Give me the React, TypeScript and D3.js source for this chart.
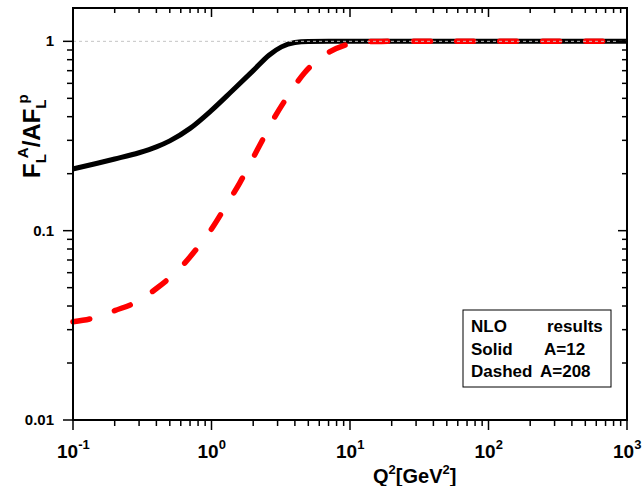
import React from "react";
import * as d3 from "d3";

// ---- data ----
const q2A12 = [0.1, 0.15, 0.2, 0.3, 0.4, 0.5, 0.7, 1, 1.4, 2, 2.6, 3.2, 4, 5, 7, 10, 100, 1000];
const ratioA12 = [0.212, 0.227, 0.239, 0.258, 0.277, 0.298, 0.347, 0.432, 0.545, 0.7, 0.845, 0.935, 0.985, 0.998, 1.0, 1.0, 1.0, 1.0];

const q2A208 = [0.1, 0.15, 0.2, 0.3, 0.4, 0.6, 0.8, 1, 1.3, 1.6, 2, 2.3, 2.9, 3.5, 4.7, 6.3, 9.4, 13, 20, 100, 1000];
const ratioA208 = [0.033, 0.035, 0.0378, 0.0427, 0.0495, 0.064, 0.082, 0.102, 0.139, 0.179, 0.243, 0.295, 0.405, 0.505, 0.683, 0.83, 0.96, 0.997, 1.0, 1.0, 1.0];

const xTickExponents = [-1, 0, 1, 2, 3];
const yTickValues = [0.01, 0.1, 1];
const yTickLabels = ["0.01", "0.1", "1"];
const legendRows = [
  ["NLO", "results"],
  ["Solid", "A=12"],
  ["Dashed", "A=208"],
];

const W = 642;
const H = 486;
const L = 73, R = 627, T = 8, B = 420;
const FONT = "'Liberation Sans', Arial, Helvetica, sans-serif";

export default function App() {
  const x = d3.scaleLog().domain([0.1, 1000]).range([L, R]);
  const y = d3.scaleLog().domain([0.01, 1.5]).range([B, T]);

  const line = d3
    .line<[number, number]>()
    .x((d) => x(d[0]))
    .y((d) => y(d[1]))
    .curve(d3.curveMonotoneX);

  const solidPath = line(q2A12.map((q, i) => [q, ratioA12[i]] as [number, number])) || "";
  const dashedPath = line(q2A208.map((q, i) => [q, ratioA208[i]] as [number, number])) || "";

  const xTicks = x.ticks();
  const yTicks = y.ticks().filter((v) => v <= 1.5 && v >= 0.01);
  const isMajor = (v: number) => Math.abs(Math.log10(v) - Math.round(Math.log10(v))) < 1e-6;

  return (
    <svg
      width={W}
      height={H}
      style={{ position: "absolute", left: 0, top: 0, background: "#fff" }}
      fontFamily={FONT}
    >
      <rect x={0} y={0} width={W} height={H} fill="#fff" />

      {/* curves */}
      <path d={solidPath} fill="none" stroke="#000" strokeWidth={5} />
      <path
        d={dashedPath}
        fill="none"
        stroke="#ff0000"
        strokeWidth={5.5}
        strokeLinecap="round"
        strokeDasharray="17 26"
      />

      {/* gridline at 1 */}
      <line x1={L} x2={R} y1={y(1)} y2={y(1)} stroke="#c4c4c4" strokeWidth={1} strokeDasharray="3 3" />

      {/* axes frame */}
      <g stroke="#000" strokeWidth={2} fill="none">
        <line x1={L} x2={L} y1={T} y2={B + 1} />
        <line x1={R} x2={R} y1={T} y2={B + 1} />
        <line x1={L - 1} x2={R + 1} y1={T} y2={T} />
        <line x1={L - 1} x2={R + 1} y1={B} y2={B} />
      </g>

      {/* x ticks */}
      <g stroke="#000" strokeWidth={1.5}>
        {xTicks.map((v, i) => {
          const len = isMajor(v) ? 10 : 6;
          const xi = x(v);
          return (
            <g key={"xt" + i}>
              <line x1={xi} x2={xi} y1={B} y2={B + len} />
              <line x1={xi} x2={xi} y1={T} y2={T + len - 1} />
            </g>
          );
        })}
      </g>

      {/* y ticks */}
      <g stroke="#000" strokeWidth={1.5}>
        {yTicks.map((v, i) => {
          const len = isMajor(v) ? 10 : 6;
          const yi = y(v);
          return (
            <g key={"yt" + i}>
              <line x1={L - len} x2={L} y1={yi} y2={yi} />
              <line x1={R - len + 1} x2={R} y1={yi} y2={yi} />
            </g>
          );
        })}
      </g>

      {/* x tick labels */}
      <g fontWeight="bold" fill="#000">
        {xTickExponents.map((e) => {
          const v = Math.pow(10, e);
          const baseW = 21;
          const supW = e < 0 ? 11 : 7;
          const total = baseW + supW;
          const x0 = x(v) - total / 2;
          return (
            <text key={"xl" + e} x={x0} y={458} fontSize={19}>
              10
              <tspan fontSize={13} dy={-9}>{String(e)}</tspan>
            </text>
          );
        })}
      </g>

      {/* y tick labels */}
      <g fontWeight="bold" fill="#000" textAnchor="end">
        {yTickValues.map((v, i) => (
          <text key={"yl" + i} x={54} y={y(v) + 5} fontSize={15}>
            {yTickLabels[i]}
          </text>
        ))}
      </g>

      {/* x axis title */}
      <text x={373} y={483} fontSize={20} fontWeight="bold">
        Q<tspan fontSize={13} dy={-9}>2</tspan>
        <tspan dy={9}>[GeV</tspan>
        <tspan fontSize={13} dy={-9}>2</tspan>
        <tspan dy={9}>]</tspan>
      </text>

      {/* y axis title */}
      <text transform="translate(40,178) rotate(-90)" fontSize={24} fontWeight="bold">
        F<tspan fontSize={15} dy={6}>L</tspan>
        <tspan fontSize={15} dx={-4} dy={-18}>A</tspan>
        <tspan dy={12}>/AF</tspan>
        <tspan fontSize={15} dy={6}>L</tspan>
        <tspan fontSize={15} dx={-4} dy={-18}>p</tspan>
      </text>

      {/* legend */}
      <rect x={463} y={310} width={148} height={77} fill="#fff" stroke="#000" strokeWidth={1} />
      <g fontWeight="bold" fontSize={17} fill="#000">
        {legendRows.map((r, i) => (
          <g key={"lg" + i}>
            <text x={471} y={332 + i * 22.5}>{r[0]}</text>
            <text x={i === 0 ? 547 : i === 1 ? 544 : 540} y={332 + i * 22.5}>{r[1]}</text>
          </g>
        ))}
      </g>
    </svg>
  );
}
